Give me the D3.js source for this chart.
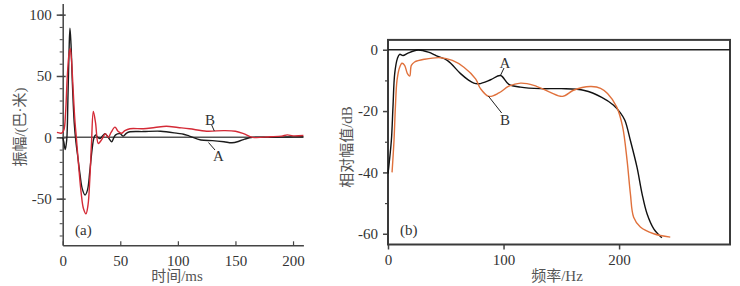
<!DOCTYPE html>
<html>
<head>
<meta charset="utf-8">
<script src="https://cdn.jsdelivr.net/npm/d3@7"></script>
<style>
    body { margin: 0; background: #fff; }
    svg { display: block; }
    text { font-family: "Liberation Serif", "Noto Sans CJK SC", serif; fill: #333; }
    text.title { fill: #555; }
</style>
</head>
<body>
<div id="chart"></div>
<script>
// (a) waveform, time in ms vs amplitude
let waveTicksX = [0, 50, 100, 150, 200]
let waveTicksY = [-50, 0, 50, 100]
let waveA = [
    [0, 0], [1, -4], [2.2, -10], [3.5, -2], [4.5, 30], [5.5, 70], [6.3, 89], [7.2, 76],
    [8.5, 42], [10, 12], [11.5, -4], [13, -15], [15, -30], [17, -42], [19.4, -47],
    [21.5, -43], [23.5, -28], [25.5, -10], [27, -1], [28.5, 2], [30.5, 0], [32.4, -1],
    [34.5, 1], [36.7, 3], [39.5, 0], [42.5, -3.6], [44.5, 0], [46, 2], [49.7, 3],
    [52.6, 1], [55.5, 3.5], [58.4, 4.5], [70, 4.7], [85, 5], [100, 3.2], [105, 2.5],
    [110, 1], [120, -2.2], [130, -2.7], [140, -3.6], [147, -4.4], [153, -3.2],
    [158, -1.5], [165, 0], [180, 0], [195, 0.3], [209, 0.5]
]
let waveB = [
    [-5, 4], [-1, 3.5], [1, 6], [2.5, 20], [4, 50], [5.5, 68], [6.5, 72.5], [7.5, 65],
    [9, 40], [10.5, 15], [12, -2], [14, -25], [16, -45], [18, -58], [20.2, -62.3],
    [22, -55], [23.5, -35], [25, -5], [26.6, 21], [28.5, 12], [30.9, -5], [33, -3],
    [35, 0], [37, 3], [39.6, 0], [42, 4], [45.4, 8.3], [48, 5], [51, 3.3], [54, 5.5],
    [58.4, 7], [70, 7], [80, 8], [90, 9], [100, 8], [110, 7], [125, 5],
    [140, 5.5], [150, 5], [157, 3], [165, 0], [180, 0.5], [190, 1], [195, 2],
    [200, 1.2], [209, 1.5]
]

// (b) spectrum, frequency in Hz vs relative amplitude in dB
let specTicksX = [0, 100, 200]
let specTicksY = [-60, -40, -20, 0]
let specA = [
    [0, -40.4], [2.9, -29.6], [4.3, -18.7], [5.8, -7.8], [8.1, -2.9], [10.1, -1.5],
    [13, -1.9], [17.3, -1.1], [26, -0.1], [35, -0.8], [42, -2], [51.3, -3.5],
    [62.8, -7.8], [70, -10], [74.3, -10.9], [78.7, -11.1], [88.8, -9.8], [97.4, -8.4],
    [104.6, -11.3], [114.7, -12.2], [132, -12.7], [150, -12.7], [170, -13.3],
    [185, -15.5], [195, -18], [201, -20.5], [205, -23], [209.8, -29.6],
    [215.5, -38.3], [219.9, -47], [224.2, -53.5], [230, -58.4], [237, -61.3]
]
let specB = [
    [3.5, -40], [5.2, -29.6], [6.4, -18.7], [7.8, -10], [10.1, -5.7], [12.1, -4.4],
    [14.4, -5.1], [16.8, -7.8], [18.8, -8.6], [20.2, -5.1], [23, -4], [31.7, -3.1],
    [45.5, -2.6], [55.7, -3.5], [65.7, -5.7], [75.8, -9.5], [80.1, -12.7],
    [87.3, -15.2], [96, -14.1], [104.6, -11.9], [114.7, -10.9], [126.2, -11.6],
    [140, -13.8], [151, -15.2], [160, -13.3], [168, -12.3], [176, -12], [184, -12.6],
    [190, -14.3], [198, -18.7], [203, -25], [206.9, -36], [209.8, -47], [212.6, -54.6],
    [218.4, -57.8], [230, -60], [244.3, -61.1]
]

const W = 740, H = 286
const svg = d3.select('#chart').append('svg')
    .attr('width', W)
    .attr('height', H)

const curve = d3.curveCatmullRom.alpha(0.5)

// ---------- panel (a) ----------
const ax = d3.scaleLinear().domain([0, 209]).range([62.7, 303.4])
const ay = d3.scaleLinear().domain([-88, 109]).range([245.3, 3.6])
const pa = svg.append('g')

// minor ticks on y
pa.append('g')
    .attr('transform', `translate(${ax(0)},0)`)
    .call(d3.axisLeft(ay).tickValues(d3.range(-80, 101, 10)).tickSize(3).tickFormat(''))
    .call(g => g.select('.domain').remove())
    .selectAll('line').attr('stroke', '#444')

pa.append('g')
    .attr('transform', `translate(${ax(0)},0)`)
    .call(d3.axisLeft(ay).tickValues(waveTicksY).tickSizeInner(6).tickSizeOuter(0)
        .tickPadding(5).tickFormat(d => String(d)))
    .call(g => g.select('.domain').attr('stroke', '#444').attr('stroke-width', 1.5))
    .call(g => g.selectAll('.tick line').attr('stroke', '#444').attr('stroke-width', 1.5).attr('x2', 3).attr('x1', -6))
    .call(g => g.selectAll('text').attr('font-size', 15).style('fill', '#333'))

pa.append('g')
    .attr('transform', `translate(0,${ay.range()[0]})`)
    .call(d3.axisBottom(ax).tickValues(waveTicksX).tickSizeInner(-4).tickSizeOuter(0)
        .tickPadding(10).tickFormat(d => String(d)))
    .call(g => g.select('.domain').attr('stroke', '#444').attr('stroke-width', 1.5))
    .call(g => g.selectAll('.tick line').attr('stroke', '#444').attr('stroke-width', 1.2))
    .call(g => g.selectAll('text').attr('font-size', 15).style('fill', '#333'))

// zero line
pa.append('line')
    .attr('x1', ax(0)).attr('x2', ax(209))
    .attr('y1', ay(0)).attr('y2', ay(0))
    .attr('stroke', '#555').attr('stroke-width', 1.5)

const aLine = d3.line().x(d => ax(d[0])).y(d => ay(d[1])).curve(curve)

pa.append('path').datum(waveA)
    .attr('fill', 'none').attr('stroke', '#1c1c1c').attr('stroke-width', 1.4)
    .attr('d', aLine)
pa.append('path').datum(waveB)
    .attr('fill', 'none').attr('stroke', '#d42a36').attr('stroke-width', 1.4)
    .attr('d', aLine)

// curve labels
pa.append('line').attr('x1', 211.7).attr('y1', 125).attr('x2', 214.3).attr('y2', 131)
    .attr('stroke', '#222').attr('stroke-width', 1)
pa.append('text').attr('x', 210).attr('y', 125).attr('text-anchor', 'middle')
    .attr('font-size', 15).text('B')
pa.append('line').attr('x1', 208.5).attr('y1', 142.5).attr('x2', 215).attr('y2', 150)
    .attr('stroke', '#222').attr('stroke-width', 1)
pa.append('text').attr('x', 218.5).attr('y', 160.5).attr('text-anchor', 'middle')
    .attr('font-size', 15).text('A')

pa.append('text').attr('x', 75).attr('y', 235).attr('font-size', 15).text('(a)')

pa.append('text').attr('class', 'title').attr('x', 177).attr('y', 281).attr('text-anchor', 'middle')
    .attr('font-size', 15).text('时间/ms')
pa.append('text').attr('class', 'title')
    .attr('transform', 'translate(25,127) rotate(-90)')
    .attr('text-anchor', 'middle').attr('font-size', 15).text('振幅/(巴·米)')

// ---------- panel (b) ----------
const bx = d3.scaleLinear().domain([0, 296]).range([388, 730])
const by = d3.scaleLinear().domain([-63.5, 3.2]).range([244.5, 39.9])
const pb = svg.append('g')

pb.append('g')
    .attr('transform', `translate(${bx(0)},0)`)
    .call(d3.axisLeft(by).tickValues([-50, -30, -10]).tickSize(3).tickFormat(''))
    .call(g => g.select('.domain').remove())
    .selectAll('line').attr('stroke', '#444').attr('stroke-width', 1.2)

pb.append('g')
    .attr('transform', `translate(${bx(0)},0)`)
    .call(d3.axisLeft(by).tickValues(specTicksY).tickSizeInner(5).tickSizeOuter(0)
        .tickPadding(5).tickFormat(d => String(d)))
    .call(g => g.select('.domain').remove())
    .call(g => g.selectAll('.tick line').attr('stroke', '#444').attr('stroke-width', 1.5))
    .call(g => g.selectAll('text').attr('font-size', 15).style('fill', '#333'))

pb.append('g')
    .attr('transform', `translate(0,${by.range()[0]})`)
    .call(d3.axisBottom(bx).tickValues(specTicksX).tickSizeInner(5).tickSizeOuter(0)
        .tickPadding(5).tickFormat(d => String(d)))
    .call(g => g.select('.domain').remove())
    .call(g => g.selectAll('.tick line').attr('stroke', '#444').attr('stroke-width', 1.5))
    .call(g => g.selectAll('text').attr('font-size', 15).style('fill', '#333'))

// frame
pb.append('rect')
    .attr('x', bx(0)).attr('y', by(3.2))
    .attr('width', bx(296) - bx(0)).attr('height', by(-63.5) - by(3.2))
    .attr('fill', 'none').attr('stroke', '#3a3a3a').attr('stroke-width', 2)

pb.append('line')
    .attr('x1', bx(0)).attr('x2', bx(296))
    .attr('y1', by(0)).attr('y2', by(0))
    .attr('stroke', '#222').attr('stroke-width', 1.5)

const bLine = d3.line().x(d => bx(d[0])).y(d => by(d[1])).curve(curve)

pb.append('path').datum(specA)
    .attr('fill', 'none').attr('stroke', '#111').attr('stroke-width', 1.4)
    .attr('d', bLine)
pb.append('path').datum(specB)
    .attr('fill', 'none').attr('stroke', '#e0713c').attr('stroke-width', 1.4)
    .attr('d', bLine)

pb.append('line').attr('x1', 500.7).attr('y1', 75).attr('x2', 504).attr('y2', 68)
    .attr('stroke', '#222').attr('stroke-width', 1)
pb.append('text').attr('x', 505).attr('y', 67.5).attr('text-anchor', 'middle')
    .attr('font-size', 15).text('A')
pb.append('line').attr('x1', 488.3).attr('y1', 96).attr('x2', 501.7).attr('y2', 113)
    .attr('stroke', '#222').attr('stroke-width', 1)
pb.append('text').attr('x', 505).attr('y', 124.5).attr('text-anchor', 'middle')
    .attr('font-size', 15).text('B')

pb.append('text').attr('x', 400).attr('y', 235).attr('font-size', 15).text('(b)')

pb.append('text').attr('class', 'title').attr('x', 557).attr('y', 281).attr('text-anchor', 'middle')
    .attr('font-size', 15).text('频率/Hz')
pb.append('text').attr('class', 'title')
    .attr('transform', 'translate(352,147) rotate(-90)')
    .attr('text-anchor', 'middle').attr('font-size', 15).text('相对幅值/dB')
</script>
</body>
</html>
